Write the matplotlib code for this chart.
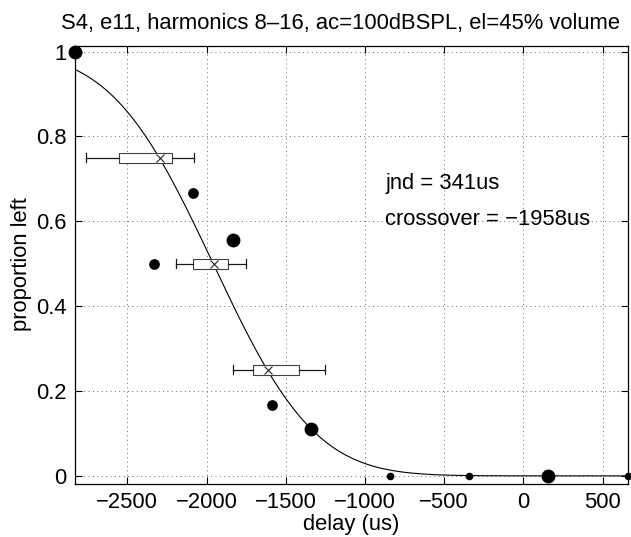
import math
import numpy as np
import matplotlib
matplotlib.use("Agg")
import matplotlib.pyplot as plt

plt.rcParams['font.family'] = ['Liberation Sans', 'DejaVu Sans']

# observed proportions (dot size ~ number of trials)
delay = np.array([-2830, -2084, -2332, -1834, -1588, -1338, -840, -344, 156, 660])
prop = np.array([1, 4/6, 3/6, 5/9, 1/6, 1/9, 0, 0, 0, 0])
ntrials = np.array([9, 6, 6, 9, 6, 9, 3, 3, 9, 3])

# horizontal box plots
box_y = [0.75, 0.5, 0.25]
box_whislo = [-2763, -2195, -1830]
box_q1 = [-2553, -2086, -1708]
box_mid = [-2294, -1954, -1611]
box_q3 = [-2219, -1866, -1418]
box_whishi = [-2078, -1752, -1254]

# fit parameters (cumulative gaussian)
jnd = 341
crossover = -1958

fig = plt.figure(figsize=(6.31, 5.37), dpi=100)
ax = fig.add_axes([0.1189, 0.0996, 0.8763, 0.8155])

# fitted curve
sigma = jnd / 0.6745
xs = np.linspace(delay.min(), delay.max(), 400)
ys = np.array([0.5 * (1 - math.erf((x - crossover) / (sigma * math.sqrt(2)))) for x in xs])
ax.plot(xs, ys, color='k', lw=0.8, zorder=3)

# box plots
stats = []
for i in range(len(box_y)):
    stats.append(dict(whislo=box_whislo[i], q1=box_q1[i], med=box_mid[i],
                      mean=box_mid[i], q3=box_q3[i], whishi=box_whishi[i]))
ax.bxp(stats, positions=box_y, widths=0.024, orientation='horizontal',
       showmeans=True, showfliers=False, manage_ticks=False, patch_artist=True,
       boxprops=dict(facecolor='white', edgecolor='0.25', lw=0.8),
       whiskerprops=dict(color='0.1', lw=0.9),
       capprops=dict(color='0.1', lw=0.9), capwidths=0.022,
       medianprops=dict(lw=0),
       meanprops=dict(marker='x', markeredgecolor='0.15', markersize=6, markeredgewidth=0.8),
       zorder=4)

# dots
for d, p, n in zip(delay, prop, ntrials):
    ax.plot(d, p, 'o', color='k', markersize=2.2 + 0.75 * n, clip_on=False, zorder=5)

ax.text(-871, 0.688, 'jnd = %dus' % jnd, fontsize=15.8, va='center', ha='left')
ax.text(-871, 0.605, 'crossover = \u2212%dus' % abs(crossover), fontsize=15.8, va='center', ha='left')

ax.set_xlim(delay.min(), delay.max())
ax.set_ylim(-0.018, 1.014)
ax.set_xticks([-2500, -2000, -1500, -1000, -500, 0, 500])
ax.set_yticks([0, 0.2, 0.4, 0.6, 0.8, 1])
ax.set_yticklabels(['0', '0.2', '0.4', '0.6', '0.8', '1'])
ax.grid(True, color='0.4', linestyle=(0, (1, 3.5)), lw=0.7)
ax.tick_params(direction='in', top=True, right=True, length=5, labelsize=15.8, width=0.8)
ax.tick_params(axis='y', pad=6)
ax.tick_params(axis='x', pad=6)
for s in ax.spines.values():
    s.set_linewidth(0.9)

ax.set_xlabel('delay (us)', fontsize=15.8, labelpad=1)
ax.set_ylabel('proportion left', fontsize=15.8, labelpad=3)
ax.set_title('S4, e11, harmonics 8\u201316, ac=100dBSPL, el=45% volume', fontsize=15.8,
             pad=12, x=0.481)

fig.savefig('out.png', dpi=100)
